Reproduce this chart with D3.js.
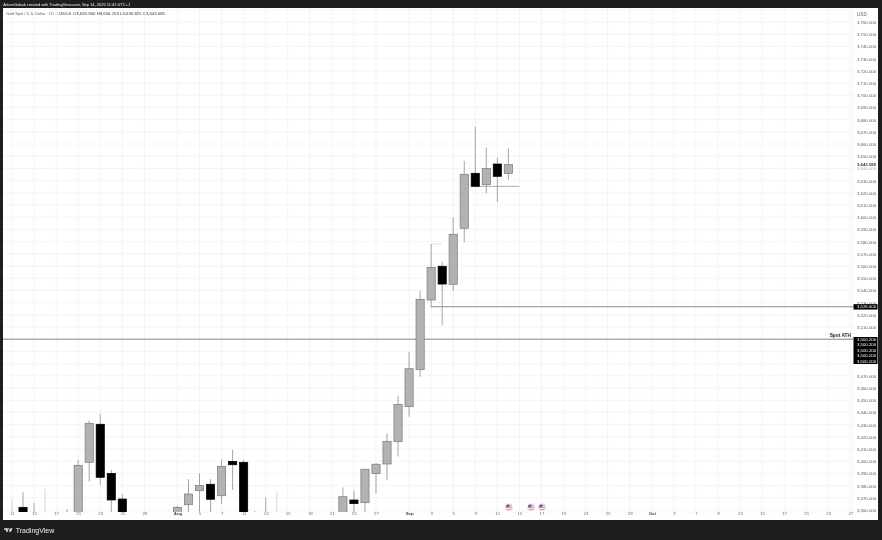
<!DOCTYPE html>
<html>
<head>
<meta charset="utf-8">
<script src="https://cdnjs.cloudflare.com/ajax/libs/d3/7.8.5/d3.min.js"></script>
<style>
html,body{margin:0;padding:0;background:#1e1e1e;overflow:hidden}
svg{display:block;filter:blur(.4px)}
text{font-family:"Liberation Sans",Arial,sans-serif}
.axis path,.axis line{display:none}
</style>
</head>
<body>
<svg id="chart" width="882" height="540"></svg>
<script>
// ---- data ----
const barIndex = d3.range(46);
const opens  = [3352,3362.2,3355,3352,3350,3350,3352,3399.1,3430.3,3390,3369,3345,3345,3345,3345,3350,3364.3,3375.8,3381.1,3371.7,3399.9,3399.1,3352,3352,3352,3345,3345,3345,3345,3345,3358,3368.2,3366,3389.8,3397.7,3416,3444.7,3475,3532.1,3559.8,3545,3590.9,3636,3626.6,3643.6,3635.9];
const highs  = [3369,3374.5,3365.7,3377.2,3354,3360.6,3401,3433.2,3438.7,3392.8,3373.1,3347,3347,3347,3347,3363.5,3385.2,3390,3385.2,3401.6,3409.2,3401,3359.2,3370.4,3374.5,3347,3347,3347,3347,3347,3378.6,3375.8,3393.6,3398.5,3422.9,3453.4,3489.3,3539.8,3578,3563.5,3599.9,3646.1,3674.2,3657,3648.8,3656.703];
const lows   = [3350,3350,3350,3350,3348,3348,3348,3383.2,3380.5,3352,3350,3343,3343,3343,3343,3348,3355,3352,3352,3364.9,3376.4,3348,3350,3350,3350,3343,3343,3343,3343,3343,3350,3352,3352,3373.4,3384.3,3403.7,3436.5,3469.3,3526.1,3511.4,3539.5,3579.4,3624.8,3619.6,3612.5,3630.825];
const closes = [3355,3352,3358,3355,3352,3352,3396.6,3431.1,3386.8,3368.2,3352,3346,3346,3346,3346,3362.2,3373.1,3380.2,3368.8,3395.8,3397.1,3350,3354,3354,3354,3346,3346,3346,3346,3346,3370.9,3365.2,3393.4,3397.5,3416.3,3446.6,3475.8,3532.7,3558.9,3545.2,3586,3635.2,3625.3,3639.8,3633.5,3643.085];
const paleBars = [0,3,24];

const priceTicks = d3.range(3360,3761,10).filter(v => v !== 3490 && v !== 3480 && v !== 3500);
const gridPrices = d3.range(3360,3771,10);
const timeIndex  = [0,2,4,6,8,10,12,15,17,19,21,23,25,27,29,31,33,36,38,40,42,44,46,48,50,52,54,56,58,60,62,64,66,68,70,72,74,76];
const timeLabels = ["11","15","17","21","23","25","29","Aug","5","7","11","13","15","19","21","25","27","Sep","3","5","9","11","15","17","19","23","25","29","Oct","3","7","9","13","15","17","21","23","27"];
const boldLabels = ["Aug","Sep","Oct"];
const stackedPriceLabels = ["3,500.200","3,500.200","3,500.200","3,500.200","3,500.200"];
const eventBars  = [45,47,48];
const ATH_PRICE  = 3500;
const LEVEL_PRICE = 3526.6;
const LEVEL_LABEL = "3,526.600";
const LEVEL_START_BAR = 38;
const SHORT_LEVEL = {price:3625.3, from:42, to:46};
const STUB_LEVEL = {price:3578, from:38, to:39};
const LAST_PRICE = 3643.085;

// ---- layout ----
const svg = d3.select("#chart");
const W = 882, H = 540;
const pane = {l:3, t:8, r:853, b:512};
const x = d3.scaleLinear().domain([0,76]).range([12,850.3]);
const y = d3.scaleLinear().domain([3760,3360]).range([22,510]);
const fmt = d3.format(",.3f");

svg.append("rect").attr("width",W).attr("height",H).attr("fill","#1e1e1e");
svg.append("rect").attr("x",pane.l).attr("y",pane.t).attr("width",878-pane.l).attr("height",520-pane.t).attr("fill","#fff");

const defs = svg.append("defs");
defs.append("clipPath").attr("id","pane").append("rect")
  .attr("x",pane.l).attr("y",pane.t).attr("width",pane.r-pane.l).attr("height",pane.b-pane.t);

// grid
const grid = svg.append("g").attr("clip-path","url(#pane)");
grid.selectAll(".h").data(gridPrices).join("line")
  .attr("x1",pane.l).attr("x2",pane.r).attr("y1",d=>y(d)).attr("y2",d=>y(d))
  .attr("stroke","#f0f1f4").attr("stroke-width",.8);
grid.selectAll(".v").data(timeIndex).join("line")
  .attr("x1",d=>x(d)).attr("x2",d=>x(d)).attr("y1",pane.t).attr("y2",pane.b)
  .attr("stroke","#f0f1f4").attr("stroke-width",.8);

// separators
svg.append("line").attr("x1",pane.r).attr("x2",pane.r).attr("y1",pane.t).attr("y2",520).attr("stroke","#eeeeee").attr("stroke-width",.6);
svg.append("line").attr("x1",pane.l).attr("x2",878).attr("y1",pane.b+.2).attr("y2",pane.b+.2).attr("stroke","#f2f2f2").attr("stroke-width",.5);

// level lines
const levels = svg.append("g").attr("clip-path","url(#pane)");
levels.append("line").attr("x1",pane.l).attr("x2",pane.r).attr("y1",y(ATH_PRICE)).attr("y2",y(ATH_PRICE)).attr("stroke","#6f6f6f").attr("stroke-width",.8);
levels.append("line").attr("x1",x(LEVEL_START_BAR)).attr("x2",pane.r).attr("y1",y(LEVEL_PRICE)).attr("y2",y(LEVEL_PRICE)).attr("stroke","#6f6f6f").attr("stroke-width",.8);
levels.append("line").attr("x1",x(SHORT_LEVEL.from)).attr("x2",x(SHORT_LEVEL.to)).attr("y1",y(SHORT_LEVEL.price)).attr("y2",y(SHORT_LEVEL.price)).attr("stroke","#8a8a8a").attr("stroke-width",.7);
levels.append("line").attr("x1",x(STUB_LEVEL.from)).attr("x2",x(STUB_LEVEL.to)).attr("y1",y(STUB_LEVEL.price)).attr("y2",y(STUB_LEVEL.price)).attr("stroke","#e8cfd6").attr("stroke-width",.8);

// candles
const candles = svg.append("g").attr("clip-path","url(#pane)");
const bodyW = 8.2;
const g = candles.selectAll("g").data(barIndex).join("g");
g.append("line")
  .attr("x1",i=>x(i)).attr("x2",i=>x(i))
  .attr("y1",i=>y(highs[i])).attr("y2",i=>y(lows[i]))
  .attr("stroke",i=>paleBars.includes(i) ? "#c9c9c9" : "#8e8e8e")
  .attr("stroke-width",.8);
g.append("rect")
  .attr("x",i=>x(i)-bodyW/2).attr("width",bodyW)
  .attr("y",i=>y(Math.max(opens[i],closes[i])))
  .attr("height",i=>Math.abs(y(opens[i])-y(closes[i])))
  .attr("fill",i=>closes[i]>=opens[i] ? "#b2b2b2" : "#000")
  .attr("stroke",i=>closes[i]>=opens[i] ? "#7a7a7a" : "#000")
  .attr("stroke-width",.7);

// price axis
const yAxis = d3.axisRight(y).tickValues(priceTicks).tickFormat(fmt).tickSize(0).tickPadding(0);
const yG = svg.append("g").attr("class","axis").attr("transform","translate(857,0)").call(yAxis);
yG.selectAll("text").attr("font-size",4.3).attr("dy",".35em")
  .attr("fill",d=>d===3640?"#aaa":"#5a5a5a");
svg.append("text").attr("x",857).attr("y",15.5).attr("font-size",4.6).attr("fill","#666").text("USD");

// last price
svg.append("text").attr("x",857).attr("y",y(LAST_PRICE)+1.6).attr("font-size",4.3).attr("font-weight",700).attr("fill","#333").text(fmt(LAST_PRICE));

// level labels
svg.append("rect").attr("x",853.5).attr("y",y(LEVEL_PRICE)-2.6).attr("width",24).attr("height",5.4).attr("fill","#000");
svg.append("text").attr("x",857).attr("y",y(LEVEL_PRICE)+1.5).attr("font-size",4.3).attr("fill","#fff").text(LEVEL_LABEL);
svg.append("rect").attr("x",853.5).attr("y",337).attr("width",24).attr("height",27).attr("fill","#000");
svg.selectAll(".ath").data(stackedPriceLabels).join("text")
  .attr("x",857).attr("y",(d,i)=>y(ATH_PRICE)+1.6+i*5.5).attr("font-size",4.3).attr("fill","#fff").text(d=>d);
svg.append("text").attr("x",851).attr("y",y(ATH_PRICE)-2).attr("text-anchor","end").attr("font-size",4.8).attr("font-weight",700).attr("fill","#222").text("Spot ATH");

// time axis
const xAxis = d3.axisBottom(x).tickValues(timeIndex).tickFormat((d,i)=>timeLabels[i]).tickSize(0).tickPadding(0);
const xG = svg.append("g").attr("class","axis").attr("transform","translate(0,514.8)").call(xAxis);
xG.selectAll("text").attr("font-size",4.3).attr("dy",".1em")
  .attr("font-weight",(d,i)=>boldLabels.includes(timeLabels[i])?700:400)
  .attr("fill",(d,i)=>boldLabels.includes(timeLabels[i])?"#444":"#6a6a6a");

// event flags
const flag = svg.append("g").selectAll("g").data(eventBars).join("g")
  .attr("transform",d=>`translate(${x(d)+.6},507.3)`);
defs.append("clipPath").attr("id","flagclip").append("circle").attr("r",3.1);
flag.append("circle").attr("r",3.7).attr("fill","#f3c9cf");
const inner = flag.append("g").attr("clip-path","url(#flagclip)");
inner.append("rect").attr("x",-3.2).attr("y",-3.2).attr("width",6.4).attr("height",6.4).attr("fill","#f4f4f6");
[-1.9,-.2,1.6].forEach(o=>inner.append("rect").attr("x",-3.2).attr("y",o).attr("width",6.4).attr("height",.8).attr("fill","#d9808e"));
inner.append("rect").attr("x",-3.2).attr("y",-3.2).attr("width",3.6).attr("height",3).attr("fill","#5a6aa8");

// header and footer text
svg.append("text").attr("x",3.3).attr("y",6.3).attr("font-size",4.1).attr("textLength",127).attr("lengthAdjust","spacingAndGlyphs").attr("fill","#eee").text("ArtemGabak created with TradingView.com, Sep 14, 2025 11:41 UTC+1");
svg.append("text").attr("x",6).attr("y",15).attr("font-size",4.1).attr("textLength",65).attr("lengthAdjust","spacingAndGlyphs").attr("fill","#666").text("Gold Spot / U.S. Dollar · 1D · OANDA");
svg.append("text").attr("x",73).attr("y",15).attr("font-size",4.3).attr("textLength",92).attr("lengthAdjust","spacingAndGlyphs").attr("fill","#333").text("O3,635.900  H3,656.703  L3,630.825  C3,643.085");

// footer logo
const logo = svg.append("g").attr("transform","translate(4.2,528.2) scale(.66)").attr("fill","#f0f0f0");
logo.append("path").attr("d","M0 0H5.5V5.4H3V2.2H0Z");
logo.append("circle").attr("cx",7).attr("cy",1.1).attr("r",1.1);
logo.append("path").attr("d","M9.6 0H12.6L10 5.4H7Z");
svg.append("text").attr("x",15.7).attr("y",532.8).attr("font-size",7).attr("font-family","Inter,Roboto,sans-serif").attr("font-weight",500).attr("fill","#f0f0f0").text("TradingView");
</script>
</body>
</html>
